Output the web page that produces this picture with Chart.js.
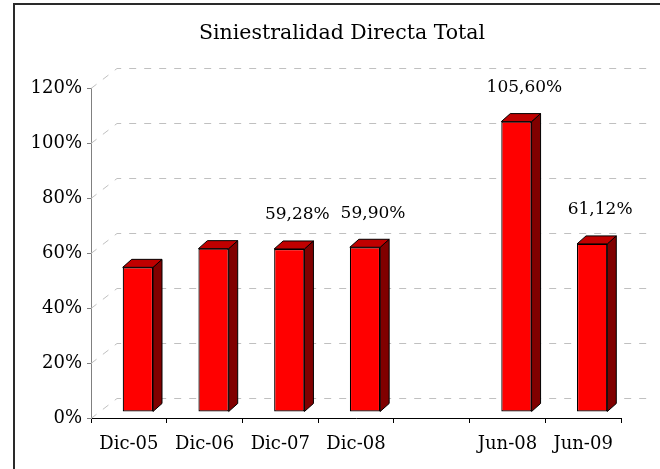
<!DOCTYPE html>
<html>
<head>
<meta charset="utf-8">
<script src="https://cdn.jsdelivr.net/npm/chart.js@4"></script>
<style>
  html, body { margin: 0; padding: 0; background: #fff; }
</style>
</head>
<body>
<canvas id="chart" width="660" height="469"></canvas>
<script>
var categories = ['Dic-05', 'Dic-06', 'Dic-07', 'Dic-08', '', 'Jun-08', 'Jun-09'];
var values = [52.6, 59.4, 59.28, 59.90, null, 105.60, 61.12];
var showValue = [false, false, true, true, false, true, true];
var yMin = 0, yMax = 120, yStep = 20;

var FONT = 'DejaVu Serif';
// 3d look: bar depth and back wall offset
var DEPTH_X = 9, DEPTH_Y = -8;
var SHIFT_X = 9, SHIFT_Y = -6;
var WALL_X = 26, WALL_Y = -20;

function fmt(v) {
    return v.toFixed(2).replace('.', ',') + '%';
}

var bars3d = {
    id: 'bars3d',
    beforeDraw: function (chart) {
        var ctx = chart.ctx;
        ctx.save();
        ctx.fillStyle = '#fff';
        ctx.fillRect(0, 0, chart.width, chart.height);
        ctx.strokeStyle = '#2a2a2a';
        ctx.lineWidth = 2;
        ctx.strokeRect(14, 4, chart.width + 10, chart.height + 10);
        ctx.restore();
    },
    beforeDatasetsDraw: function (chart) {
        var ctx = chart.ctx, a = chart.chartArea, ys = chart.scales.y;
        // dashed lines on the back wall
        ctx.save();
        ctx.strokeStyle = '#c0c0c0';
        ctx.lineWidth = 1;
        ctx.setLineDash([7, 8]);
        ys.ticks.forEach(function (t) {
            var py = Math.round(ys.getPixelForValue(t.value)) + 0.5;
            ctx.beginPath();
            ctx.moveTo(a.left, py);
            ctx.lineTo(a.left + WALL_X, py + WALL_Y);
            ctx.lineTo(a.right + WALL_X + 1, py + WALL_Y);
            ctx.stroke();
        });
        ctx.restore();

        ctx.save();
        ctx.translate(SHIFT_X, SHIFT_Y);
        chart.getDatasetMeta(0).data.forEach(function (bar, i) {
            if (values[i] == null || isNaN(bar.y)) return;
            var l = bar.x - bar.width / 2, r = bar.x + bar.width / 2, t = bar.y, b = bar.base;
            ctx.lineWidth = 1;
            ctx.strokeStyle = '#000';
            // side
            ctx.beginPath();
            ctx.moveTo(r, t);
            ctx.lineTo(r + DEPTH_X, t + DEPTH_Y);
            ctx.lineTo(r + DEPTH_X, b + DEPTH_Y);
            ctx.lineTo(r, b);
            ctx.closePath();
            ctx.fillStyle = '#800000';
            ctx.fill();
            ctx.stroke();
            // top
            ctx.beginPath();
            ctx.moveTo(l, t);
            ctx.lineTo(l + DEPTH_X, t + DEPTH_Y);
            ctx.lineTo(r + DEPTH_X, t + DEPTH_Y);
            ctx.lineTo(r, t);
            ctx.closePath();
            ctx.fillStyle = '#c00000';
            ctx.fill();
            ctx.stroke();
        });
    },
    afterDatasetsDraw: function (chart) {
        var ctx = chart.ctx;
        ctx.restore();
        ctx.save();
        ctx.fillStyle = '#000';
        ctx.font = '17px "' + FONT + '"';
        ctx.textAlign = 'center';
        ctx.textBaseline = 'middle';
        chart.getDatasetMeta(0).data.forEach(function (bar, i) {
            if (!showValue[i] || values[i] == null) return;
            ctx.fillText(fmt(values[i]), bar.x + SHIFT_X + 8, bar.y + SHIFT_Y - 34);
        });
        ctx.restore();
    }
};

var ctx = document.getElementById('chart').getContext('2d');
var chart = new Chart(ctx, {
    type: 'bar',
    data: {
        labels: categories,
        datasets: [{
            data: values,
            backgroundColor: '#ff0000',
            borderColor: '#000',
            borderWidth: 1.2,
            borderSkipped: false,
            barPercentage: 0.4,
            categoryPercentage: 1,
            clip: false
        }]
    },
    options: {
        responsive: false,
        animation: false,
        layout: {
            padding: { left: 24, right: 0, top: 0, bottom: 0 }
        },
        scales: {
            x: {
                offset: true,
                afterFit: function (s) { s.height = 51; },
                border: { display: true, color: '#000', width: 1 },
                grid: { offset: true, drawOnChartArea: false, drawTicks: true, tickLength: 5, color: '#000' },
                ticks: {
                    color: '#000',
                    padding: 11,
                    maxRotation: 0,
                    autoSkip: false,
                    font: { family: FONT, size: 18 }
                }
            },
            y: {
                min: yMin,
                max: yMax,
                afterFit: function (s) { s.width = 67; },
                border: { display: true, color: '#808080', width: 1 },
                grid: { drawOnChartArea: false, drawTicks: true, tickLength: 4, color: '#808080' },
                ticks: {
                    stepSize: yStep,
                    color: '#000',
                    padding: 5,
                    font: { family: FONT, size: 18 },
                    callback: function (v) { return v + '%'; }
                }
            },
            spacer: {
                type: 'linear',
                position: 'right',
                min: yMin,
                max: yMax,
                afterFit: function (s) { s.width = 39; },
                border: { display: false },
                grid: { display: false },
                ticks: { display: false }
            }
        },
        plugins: {
            legend: { display: false },
            tooltip: { enabled: false },
            title: {
                display: true,
                text: 'Siniestralidad Directa Total',
                color: '#000',
                font: { family: FONT, size: 20.5, weight: 'normal', lineHeight: 1.2 },
                padding: { top: 21, bottom: 42.4 }
            }
        }
    },
    plugins: [bars3d]
});
</script>
</body>
</html>
